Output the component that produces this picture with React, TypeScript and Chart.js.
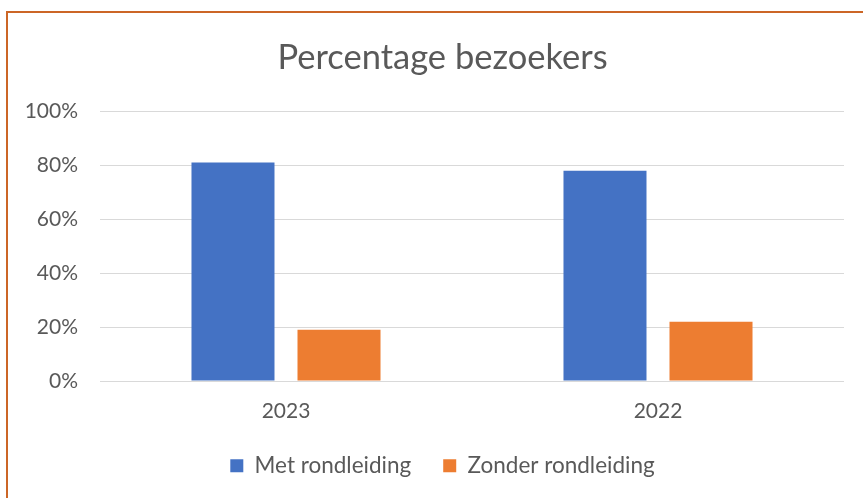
import React, { useEffect, useRef } from "react";
import { Chart, registerables } from "chart.js";

Chart.register(...registerables);

const categories = ["2023", "2022"];
const seriesNames = ["Met rondleiding", "Zonder rondleiding"];
const metRondleiding = [81, 78];
const zonderRondleiding = [19, 22];
const titleText = "Percentage bezoekers";

const FONT = "Lato, 'Noto Sans', sans-serif";
const TEXT = "#595959";

export default function App() {
  const ref = useRef<HTMLCanvasElement | null>(null);

  useEffect(() => {
    if (!ref.current) return;
    const chart = new Chart(ref.current, {
      type: "bar",
      data: {
        labels: categories,
        datasets: [
          {
            label: seriesNames[0],
            data: metRondleiding,
            backgroundColor: "#4472C4",
            categoryPercentage: 0.57,
            barPercentage: 0.783,
          },
          {
            label: seriesNames[1],
            data: zonderRondleiding,
            backgroundColor: "#ED7D31",
            categoryPercentage: 0.57,
            barPercentage: 0.783,
          },
        ],
      },
      options: {
        responsive: false,
        animation: false,
        devicePixelRatio: 1,
        layout: { padding: { left: 0, right: 0, top: 0, bottom: 11 } },
        plugins: {
          title: {
            display: true,
            text: titleText,
            color: TEXT,
            font: { family: FONT, size: 34.5, weight: "normal" },
            padding: { top: 37, bottom: 33 },
          },
          legend: {
            position: "bottom",
            labels: {
              boxWidth: 13,
              boxHeight: 13,
              padding: 32,
              color: TEXT,
              font: { family: FONT, size: 22.5 },
            },
          },
          tooltip: { enabled: false },
        },
        scales: {
          x: {
            grid: { display: false, drawTicks: false },
            border: { display: false },
            ticks: {
              color: TEXT,
              font: { family: FONT, size: 21 },
              padding: 18,
            },
            afterFit: (scale: any) => {
              scale.height = 41.5;
            },
          },
          y: {
            min: 0,
            max: 100,
            grid: { color: "#D9D9D9", lineWidth: 1, drawTicks: false },
            border: { display: false },
            ticks: {
              stepSize: 20,
              color: TEXT,
              font: { family: FONT, size: 21 },
              padding: 22,
              callback: (v: any) => v + "%",
            },
            afterFit: (scale: any) => {
              scale.width = 100;
            },
          },
          yRight: {
            type: "linear",
            position: "right",
            min: 0,
            max: 100,
            grid: { display: false, drawTicks: false },
            border: { display: false },
            ticks: { display: false },
            afterFit: (scale: any) => {
              scale.width = 41;
            },
          },
        },
      },
    });
    return () => chart.destroy();
  }, []);

  return (
    <div
      style={{
        position: "fixed",
        left: 0,
        top: 0,
        width: 863,
        height: 498,
        background: "#fff",
        overflow: "hidden",
      }}
    >
      <div
        style={{
          position: "absolute",
          left: 6,
          top: 11,
          width: 900,
          height: 600,
          border: "2px solid #CC6626",
          boxSizing: "border-box",
        }}
      />
      <canvas
        ref={ref}
        width={885}
        height={498}
        style={{ position: "absolute", left: 0, top: 0 }}
      />
    </div>
  );
}
